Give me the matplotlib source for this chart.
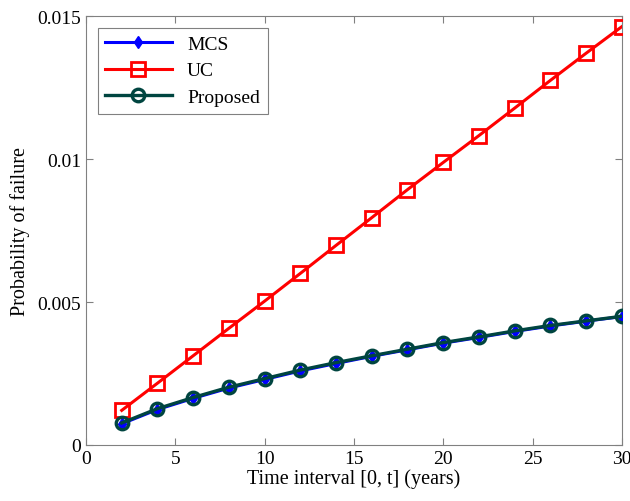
import numpy as np
import matplotlib
matplotlib.use('Agg')
import matplotlib.pyplot as plt

plt.rcParams['font.family'] = ['Liberation Serif', 'DejaVu Serif']

# data
t = [2, 4, 6, 8, 10, 12, 14, 16, 18, 20, 22, 24, 26, 28, 30]
pf_uc = [0.00121, 0.00216, 0.00312, 0.00408, 0.00503, 0.00600, 0.00698, 0.00795,
         0.00893, 0.00988, 0.01082, 0.01178, 0.01275, 0.01370, 0.01463]
pf_proposed = [0.00077, 0.00127, 0.00166, 0.00202, 0.00232, 0.00262, 0.00288, 0.00312,
               0.00335, 0.00358, 0.00378, 0.00399, 0.00418, 0.00434, 0.00450]
pf_mcs = [0.00074, 0.00124, 0.00163, 0.00199, 0.00229, 0.00259, 0.00285, 0.00310,
          0.00333, 0.00356, 0.00376, 0.00397, 0.00416, 0.00433, 0.00449]

fig = plt.figure(figsize=(6.3, 5.02), dpi=100)
ax = fig.add_axes([0.1365, 0.1116, 0.8505, 0.8544])

ax.plot(t, pf_mcs, color='#0000ff', lw=2.2, marker='d', ms=6, mfc='#0000ff', mec='#0000ff', label='MCS', zorder=4)
ax.plot(t, pf_uc, color='#ff0000', lw=2.2, marker='s', ms=10, mfc='none', mec='#ff0000', mew=2, label='UC', zorder=3)
ax.plot(t, pf_proposed, color='#004540', lw=2.4, marker='o', ms=9, mfc='none', mec='#004540', mew=2.4, label='Proposed', zorder=5)

ax.set_xlim(0, 30)
ax.set_ylim(0, 0.015)
ax.set_xticks([0, 5, 10, 15, 20, 25, 30])
ax.set_yticks([0, 0.005, 0.01, 0.015])
ax.set_yticklabels(['0', '0.005', '0.01', '0.015'])
ax.tick_params(direction='in', top=True, right=True, labelsize=14, length=5, color='#808080')
for s in ax.spines.values():
    s.set_color('#808080')

ax.set_xlabel('Time interval [0, t] (years)', fontsize=14.5, labelpad=1)
ax.set_ylabel('Probability of failure', fontsize=14.5, labelpad=5)

leg = ax.legend(loc='upper left', fontsize=14, fancybox=False, framealpha=1,
                edgecolor='#808080', handlelength=3.4, borderaxespad=0.6,
                labelspacing=0.45)
leg.get_frame().set_linewidth(0.8)

fig.savefig('out.png', dpi=100)
